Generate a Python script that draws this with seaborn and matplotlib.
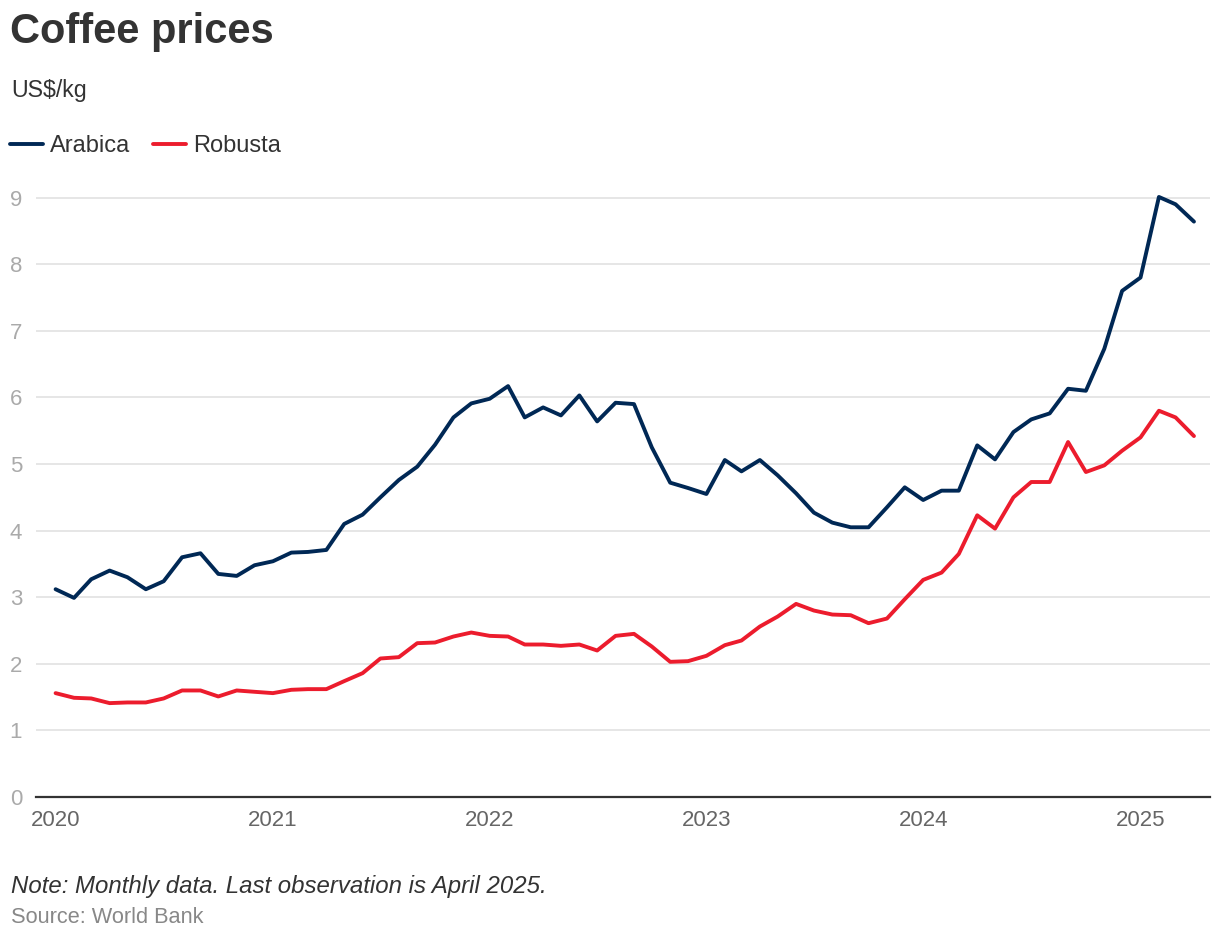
import pandas as pd
import matplotlib.pyplot as plt
import seaborn as sns

# Monthly prices, Jan 2020 - Apr 2025 (US$/kg)
months = pd.date_range("2020-01-01", periods=64, freq="MS")

arabica = [3.12, 2.99, 3.27, 3.40, 3.30, 3.12, 3.24, 3.60, 3.66, 3.35, 3.32, 3.48,
           3.54, 3.67, 3.68, 3.71, 4.10, 4.24, 4.50, 4.76, 4.96, 5.29, 5.70, 5.91,
           5.98, 6.17, 5.70, 5.85, 5.73, 6.03, 5.64, 5.92, 5.90, 5.25, 4.72, 4.64,
           4.55, 5.06, 4.89, 5.06, 4.83, 4.56, 4.27, 4.12, 4.05, 4.05, 4.35, 4.65,
           4.46, 4.60, 4.60, 5.28, 5.07, 5.48, 5.67, 5.76, 6.13, 6.10, 6.73, 7.60,
           7.80, 9.01, 8.90, 8.64]

robusta = [1.56, 1.49, 1.48, 1.41, 1.42, 1.42, 1.48, 1.60, 1.60, 1.51, 1.60, 1.58,
           1.56, 1.61, 1.62, 1.62, 1.74, 1.86, 2.08, 2.10, 2.31, 2.32, 2.41, 2.47,
           2.42, 2.41, 2.29, 2.29, 2.27, 2.29, 2.20, 2.42, 2.45, 2.26, 2.03, 2.04,
           2.12, 2.28, 2.35, 2.56, 2.71, 2.90, 2.80, 2.74, 2.73, 2.61, 2.68, 2.97,
           3.26, 3.37, 3.65, 4.23, 4.03, 4.50, 4.73, 4.73, 5.33, 4.88, 4.98, 5.20,
           5.40, 5.80, 5.70, 5.42]

years = [2020, 2021, 2022, 2023, 2024, 2025]
yticks = list(range(0, 10))

df = pd.DataFrame({
    "Month": list(months) * 2,
    "Price": arabica + robusta,
    "Series": ["Arabica"] * len(arabica) + ["Robusta"] * len(robusta),
})

sns.set_theme(style="white")
plt.rcParams["font.family"] = ["Liberation Sans", "DejaVu Sans"]

fig = plt.figure(figsize=(12.2, 9.4), dpi=100)
ax = fig.add_axes([0.0295, 0.1521, 0.9623, 0.666])

sns.lineplot(data=df, x="Month", y="Price", hue="Series",
             palette={"Arabica": "#002855", "Robusta": "#EC1C2D"},
             linewidth=2.8, ax=ax, legend=True)

# axes styling
ax.set_ylim(0, 9.4)
ax.set_xlim(pd.Timestamp("2019-11-29"), pd.Timestamp("2025-04-28"))
ax.set_yticks(yticks)
ax.set_xticks([pd.Timestamp(f"{y}-01-01") for y in years])
ax.set_xticklabels([str(y) for y in years])
ax.set_xlabel("")
ax.set_ylabel("")
ax.grid(axis="y", color="#e6e6e6", linewidth=1.4)
ax.grid(axis="x", visible=False)
for s in ["top", "right", "left"]:
    ax.spines[s].set_visible(False)
ax.spines["bottom"].set_color("#333333")
ax.spines["bottom"].set_linewidth(1.6)
ax.spines["bottom"].set_zorder(5)
ax.tick_params(axis="y", length=0, pad=10, labelsize=16, labelcolor="#aaaaaa")
ax.tick_params(axis="x", length=0, pad=9, labelsize=16, labelcolor="#666666")

# legend above the plot
handles, labels = ax.get_legend_handles_labels()
ax.get_legend().remove()
fig.legend(handles, labels, loc="center left", bbox_to_anchor=(0.0082, 0.8447),
           ncol=2, frameon=False, fontsize=17, handlelength=1.4,
           handletextpad=0.3, columnspacing=0.95, borderpad=0, borderaxespad=0,
           labelcolor="#333333")

# titles and notes
fig.text(0.008, 0.9545, "Coffee prices", fontsize=30, fontweight="bold",
         color="#333333", va="baseline")
fig.text(0.009, 0.8968, "US$/kg", fontsize=16.7, color="#333333", va="baseline")
fig.text(0.009, 0.050, "Note: Monthly data. Last observation is April 2025.",
         fontsize=17.3, style="italic", color="#333333", va="baseline")
fig.text(0.009, 0.0181, "Source: World Bank", fontsize=15.7, color="#888888",
         va="baseline")

fig.savefig("out.png", dpi=100)
